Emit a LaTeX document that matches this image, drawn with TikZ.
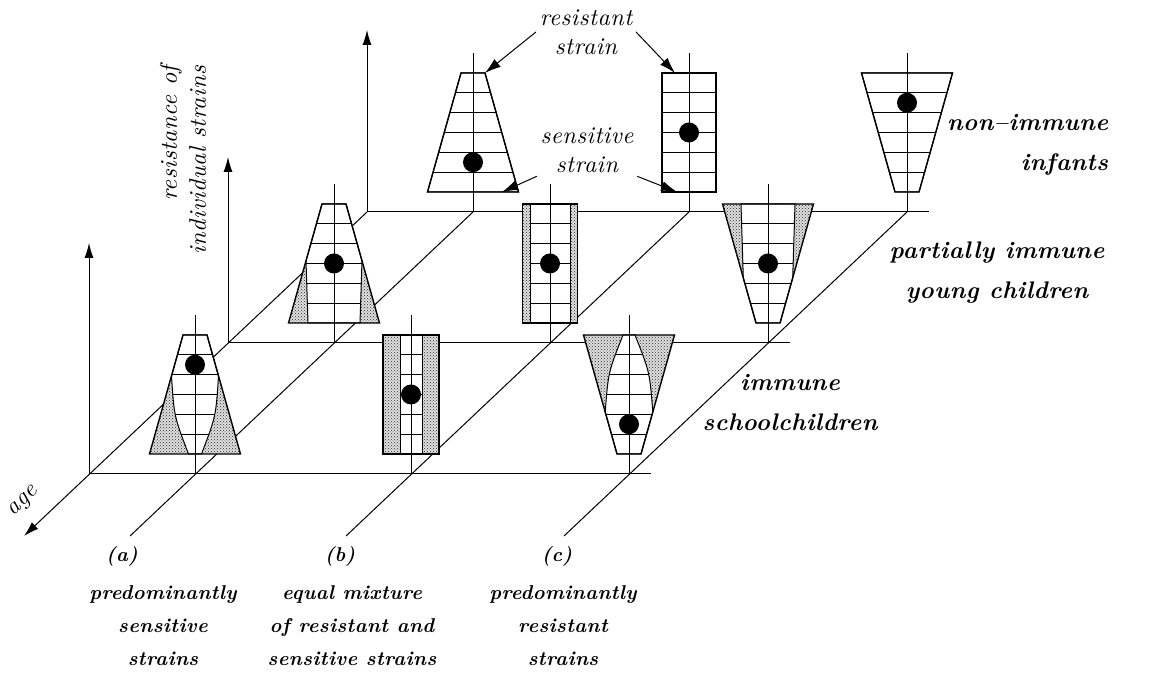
\documentclass[tikz,border=0pt]{standalone}
\usepackage{fontspec}
\newfontfamily\lblfont{lmroman10}[Extension=.otf, UprightFont=*-regular, ItalicFont=*-italic, BoldFont=*-bold, BoldItalicFont=*-bolditalic, LetterSpace=2]
\usetikzlibrary{arrows.meta, positioning, calc, patterns}

% one strain box: shift, top half width, bottom half width, clear part, dot height
\newcommand{\straincell}[5]{%
  \begin{scope}[shift={#1}]
    \path[stipple] (-#3,20) -- (#3,20) -- (#2,139) -- (-#2,139) -- cycle;
    \fill[white] #4;
    \begin{scope}
      \clip #4;
      \foreach \k in {1,...,5}
        \draw (-50,20+\k*119/6) -- (50,20+\k*119/6);
    \end{scope}
    \draw #4;
    \draw (0,0) -- (0,159);
    \draw[outline] (-#3,20) -- (#3,20) -- (#2,139) -- (-#2,139) -- cycle;
    \fill (0,#5) circle (10);
  \end{scope}}

\begin{document}
\begin{tikzpicture}[
   x=1pt, y=1pt, line width=1pt,
   stipple/.style={preaction={fill=black!12}, pattern=crosshatch dots, pattern color=black!85},
   outline/.style={line width=1.4pt, line join=miter},
   tag/.style={font={\lblfont\itshape\fontsize{24}{29}\selectfont}, align=center},
   grouplbl/.style={font={\lblfont\bfseries\itshape\fontsize{24}{40}\selectfont}, align=center},
   caselbl/.style={font={\lblfont\bfseries\itshape\fontsize{20}{33}\selectfont}, align=center},
   axis/.style={-{Latex[length=15pt,width=9pt]}},
   ptr/.style={-{Latex[length=16pt,width=10pt]}}
]
   \useasboundingbox (0,0) rectangle (1160,696);

   % Planes
   \coordinate (o1) at (89,222);
   \coordinate (o2) at (228,353);
   \coordinate (o3) at (367,484);
   \coordinate (e1) at (651,222);
   \coordinate (e2) at (790,353);
   \coordinate (e3) at (929,484);
   \coordinate (t1) at (89,453);
   \coordinate (t2) at (228,539);
   \coordinate (t3) at (367,666);
   \draw (o1) -- (e1);
   \draw (o2) -- (e2);
   \draw (o3) -- (e3);
   \draw[axis] (o1) -- (t1);
   \draw[axis] (o2) -- (t2);
   \draw[axis] (o3) -- (t3);

   % Age axis and columns
   \coordinate (agetip) at (24,160);
   \coordinate (a3) at (473,484);
   \coordinate (b3) at (689,484);
   \coordinate (c3) at (907,484);
   \coordinate (fa) at (130,160);
   \coordinate (fb) at (346,160);
   \coordinate (fc) at (564,160);
   \draw[axis] (o3) -- (agetip);
   \draw (a3) -- (fa);
   \draw (b3) -- (fb);
   \draw (c3) -- (fc);

   % Non-immune infants
   \straincell{(473,484)}{12}{45.5}{(-45.5,20) -- (45.5,20) -- (12,139) -- (-12,139) -- cycle}{49.75}
   \straincell{(689,484)}{27}{27}{(-27,20) rectangle (27,139)}{79.5}
   \straincell{(907,484)}{45.5}{12}{(-12,20) -- (12,20) -- (45.5,139) -- (-45.5,139) -- cycle}{109.25}

   % Partially immune young children
   \straincell{(334,353)}{12}{45.5}{(-26,20) -- (26,20) -- (28,82) -- (12,139) -- (-12,139) -- (-28,82) -- cycle}{79.5}
   \straincell{(550,353)}{27.5}{27.5}{(-20,20) rectangle (20,139)}{79.5}
   \straincell{(768,353)}{45.5}{12}{(-12,20) -- (12,20) -- (24.7,65) -- (27,139) -- (-27,139) -- (-24.7,65) -- cycle}{79.5}

   % Immune schoolchildren
   \straincell{(195,222)}{12}{45.5}{(-6.5,20) -- (6.5,20) .. controls (20.9,57.7) .. (23.5,98) -- (12,139) -- (-12,139) -- (-23.5,98) .. controls (-20.9,57.7) .. (-6.5,20) -- cycle}{109.25}
   \straincell{(411,222)}{28}{28}{(-11,20) rectangle (11,139)}{79.5}
   \straincell{(629,222)}{45.5}{12}{(-12,20) -- (12,20) -- (23.8,62) .. controls (20.7,101.9) .. (6,139) -- (-6,139) .. controls (-20.7,101.9) .. (-23.8,62) -- cycle}{49.75}

   % Strain labels
   \node[tag] (res) at (586,664) {resistant\\strain};
   \node[tag] (sen) at (587,546) {sensitive\\strain};
   \coordinate (resA) at (485,623);
   \coordinate (resB) at (675,623);
   \coordinate (senA) at (502,504);
   \coordinate (senB) at (677,504);
   \draw[ptr] (res.west) -- (resA);
   \draw[ptr] (res.east) -- (resB);
   \draw[ptr] (sen.south west) -- (senA);
   \draw[ptr] (sen.south east) -- (senB);

   % Axis labels
   \node[tag, rotate=90, align=right] (resist) at (183,536) {resistance of\\individual strains};
   \node[tag, rotate=43.3] (age) at (24,194) {age};

   % Group labels
   \node[grouplbl, align=right, anchor=east] (infants) at (1112,551) {non–immune\\infants};
   \node[grouplbl] (young) at (997,423) {partially immune\\young children};
   \node[grouplbl] (school) at (790,293) {immune\\schoolchildren};

   % Cases
   \node[caselbl] (la) at (122,140) {(a)};
   \node[caselbl] (lb) at (340,140) {(b)};
   \node[caselbl] (lc) at (557,140) {(c)};
   \node[caselbl, below=12pt of la, xshift=41pt] (ta) {predominantly\\sensitive\\strains};
   \node[caselbl, below=12pt of lb, xshift=12pt] (tb) {equal mixture\\of resistant and\\sensitive strains};
   \node[caselbl, below=12pt of lc, xshift=6pt] (tc) {predominantly\\resistant\\strains};
\end{tikzpicture}
\end{document}
